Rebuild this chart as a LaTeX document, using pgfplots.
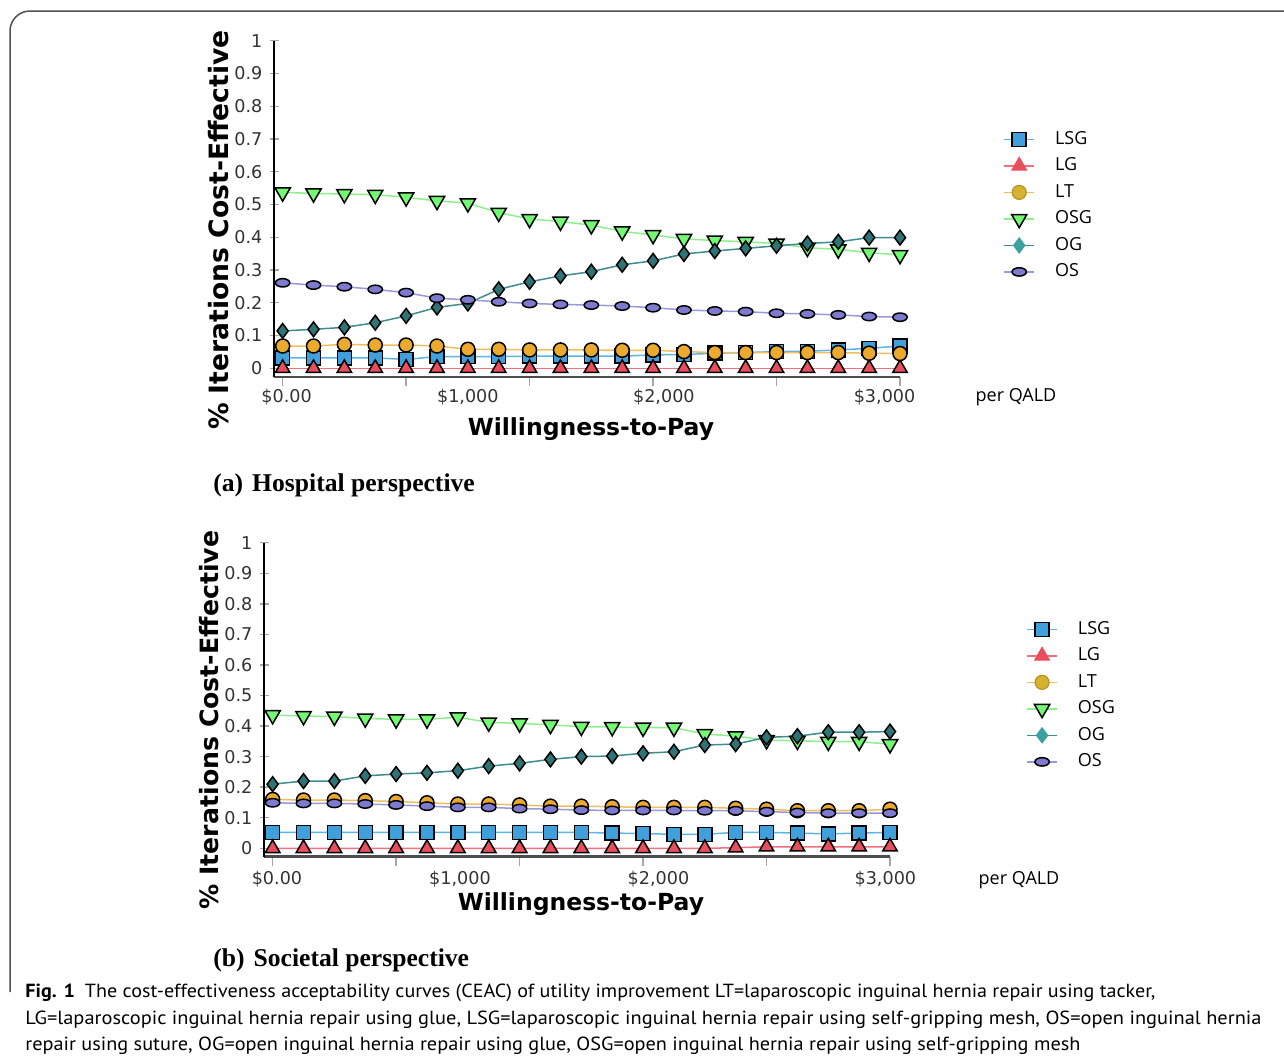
\documentclass[border=0pt]{standalone}
\usepackage{fontspec}
\usepackage{pgfplots}
\usepackage{pgfplotstable}
\pgfplotsset{compat=1.18}
\newfontfamily\dv{DejaVu Sans}
\newfontfamily\osans{Open Sans}
\newfontfamily\ptsans{PT Sans}
\newfontfamily\tms{Liberation Serif}

\definecolor{lsgfill}{HTML}{3FA0DC}\definecolor{lsgline}{HTML}{5AB4E8}
\definecolor{lgfill}{HTML}{E84E5C}\definecolor{lgline}{HTML}{F07080}
\definecolor{ltfill}{HTML}{EBAA2E}\definecolor{ltline}{HTML}{F0BE5A}
\definecolor{ltleg}{HTML}{D6B232}\definecolor{ltlegb}{HTML}{B8941E}
\definecolor{osgfill}{HTML}{72F872}\definecolor{osgline}{HTML}{8CF08C}
\definecolor{ogfill}{HTML}{2F7474}\definecolor{ogline}{HTML}{3E8C8C}\definecolor{ogleg}{HTML}{3AA0A0}
\definecolor{osfill}{HTML}{7D7ACF}\definecolor{osline}{HTML}{9A98DC}
\definecolor{frame}{HTML}{505050}

\pgfplotstableread{
x LSG LG LT OSG OG OS
0 0.032 0 0.068 0.537 0.114 0.261
1 0.032 0 0.068 0.534 0.119 0.254
2 0.032 0 0.073 0.532 0.125 0.249
3 0.032 0 0.071 0.530 0.139 0.241
4 0.027 0 0.071 0.522 0.160 0.231
5 0.036 0 0.068 0.511 0.186 0.214
6 0.036 0 0.058 0.504 0.198 0.209
7 0.036 0 0.058 0.475 0.241 0.203
8 0.037 0 0.056 0.456 0.264 0.198
9 0.037 0 0.056 0.448 0.282 0.195
10 0.037 0 0.056 0.437 0.295 0.193
11 0.037 0 0.055 0.418 0.316 0.190
12 0.041 0 0.055 0.407 0.328 0.185
13 0.042 0 0.051 0.395 0.349 0.178
14 0.046 0 0.048 0.390 0.358 0.175
15 0.048 0 0.048 0.386 0.366 0.173
16 0.051 0 0.048 0.381 0.374 0.168
17 0.052 0 0.048 0.368 0.381 0.166
18 0.056 0 0.048 0.363 0.386 0.163
19 0.061 0 0.046 0.353 0.399 0.158
20 0.068 0 0.045 0.346 0.399 0.156
}\hosp

\pgfplotstableread{
x LSG LG LT OSG OG OS
0 0.052 0 0.160 0.436 0.210 0.149
1 0.052 0 0.158 0.433 0.220 0.147
2 0.052 0 0.158 0.431 0.220 0.147
3 0.052 0 0.156 0.425 0.237 0.145
4 0.052 0 0.153 0.422 0.243 0.142
5 0.052 0 0.149 0.422 0.247 0.138
6 0.052 0 0.145 0.429 0.254 0.134
7 0.052 0 0.145 0.412 0.269 0.134
8 0.052 0 0.142 0.409 0.278 0.130
9 0.052 0 0.138 0.404 0.291 0.128
10 0.052 0 0.138 0.398 0.300 0.125
11 0.050 0 0.136 0.397 0.302 0.124
12 0.048 0 0.134 0.395 0.311 0.124
13 0.046 0 0.134 0.395 0.316 0.124
14 0.046 0 0.134 0.374 0.338 0.123
15 0.052 0.002 0.131 0.367 0.341 0.123
16 0.052 0.005 0.128 0.354 0.363 0.120
17 0.050 0.005 0.123 0.352 0.367 0.117
18 0.047 0.005 0.123 0.349 0.380 0.115
19 0.050 0.005 0.123 0.349 0.380 0.115
20 0.052 0.005 0.128 0.341 0.382 0.115
}\soc

\pgfplotsset{
  lsg/.style={color=lsgline, line width=0.75pt, mark=square*, mark size=3.5pt, mark options={fill=lsgfill, draw=black, line width=0.75pt}},
  lg/.style={color=lgline, line width=0.75pt, mark=triangle*, mark size=4.2pt, mark options={fill=lgfill, draw=black, line width=0.75pt}},
  lt/.style={color=ltline, line width=0.75pt, mark=*, mark size=3.5pt, mark options={fill=ltfill, draw=black, line width=0.75pt}},
  osg/.style={color=osgline, line width=0.75pt, mark=triangle*, mark size=4.4pt, mark options={fill=osgfill, draw=black, line width=0.75pt, rotate=180}},
  og/.style={color=ogline, line width=0.75pt, mark=diamond*, mark size=3.7pt, mark options={fill=ogfill, draw=black, line width=0.75pt}},
  os/.style={color=osline, line width=0.75pt, mark=*, mark size=3.6pt, mark options={fill=osfill, draw=black, line width=0.75pt, yscale=0.58}},
  ceac/.style={
    scale only axis, width=313pt,
    xmin=-0.28, xmax=20, ymax=1,
    clip=false,
    axis x line*=bottom, axis y line*=left,
    x axis line style={draw=black!70, line width=1.3pt},
    y axis line style={draw=black, line width=0.7pt},
    xtick={0,4,8,12,16,20}, xticklabels={},
    extra x tick labels={{\$0.00},{\$1,000},{\$2,000},{\$3,000}},
    extra x tick style={tick style={draw=none}},
    ytick={0,0.1,0.2,0.3,0.4,0.5,0.6,0.7,0.8,0.9,1},
    yticklabels={0,0.1,0.2,0.3,0.4,0.5,0.6,0.7,0.8,0.9,1},
    major tick length=4.5pt,
    xtick align=outside, ytick align=center,
    tick style={draw=black!35, line width=0.7pt},
    tick label style={font=\dv\fontsize{8.8}{10}\selectfont, text=black!80},
    /pgf/number format/assume math mode=true,
    xlabel={Willingness-to-Pay},
    ylabel={\% Iterations Cost-Effective},
    legend cell align=left,
    legend image code/.code={\draw[mark repeat=2,mark phase=2] plot coordinates {(0cm,0cm) (0.265cm,0cm) (0.53cm,0cm)};},
    legend style={draw=none, fill=none, font=\osans\fontsize{9}{10}\selectfont, inner sep=0pt, row sep=4.25pt, column sep=10pt, nodes={inner sep=0pt, text height=7pt, text depth=2pt}},
  }
}

\newcommand\legendimages{%
  \addlegendimage{color=lsgline, line width=0.75pt, mark=square*, mark size=3.5pt, mark options={fill=lsgfill, draw=black, line width=0.75pt}}
  \addlegendentry{LSG}
  \addlegendimage{color=lgline, line width=0.75pt, mark=triangle*, mark size=4.2pt, mark options={fill=lgfill, draw=lgfill, line width=0.6pt}}
  \addlegendentry{LG}
  \addlegendimage{color=ltline, line width=0.75pt, mark=*, mark size=3.5pt, mark options={fill=ltleg, draw=ltlegb, line width=0.6pt}}
  \addlegendentry{LT}
  \addlegendimage{color=osgline, line width=0.75pt, mark=triangle*, mark size=4.4pt, mark options={fill=osgfill, draw=black, line width=0.75pt, rotate=180}}
  \addlegendentry{OSG}
  \addlegendimage{color=ogline, line width=0.75pt, mark=diamond*, mark size=3.7pt, mark options={fill=ogleg, draw=ogleg, line width=0.6pt}}
  \addlegendentry{OG}
  \addlegendimage{color=osline, line width=0.75pt, mark=*, mark size=3.6pt, mark options={fill=osfill, draw=black, line width=0.75pt, yscale=0.58}}
  \addlegendentry{OS}
}

\begin{document}
\begin{tikzpicture}
\path[use as bounding box] (0,0) rectangle (642pt,-530.5pt);
\begin{scope}[x=0.5pt,y=-0.5pt]
  \draw[frame, line width=0.75pt, rounded corners=10pt] (10,992) -- (10,11) -- (1300,11);
  \node[anchor=base west, inner sep=0pt] at (213,491) {\tms\bfseries\fontsize{12.8}{14}\selectfont (a)\hspace{4.5pt}Hospital perspective};
  \node[anchor=base west, inner sep=0pt] at (213,966) {\tms\bfseries\fontsize{12.8}{14}\selectfont (b)\hspace{4.5pt}Societal perspective};
  \node[anchor=base, inner sep=0pt] at (1016,401.5) {\osans\fontsize{9}{10}\selectfont per QALD};
  \node[anchor=base, inner sep=0pt] at (1019,884.5) {\osans\fontsize{9}{10}\selectfont per QALD};
  \node[anchor=base west, inner sep=0pt] at (25,997) {\resizebox{565pt}{\height}{\ptsans\fontsize{9.5}{11}\selectfont\textbf{Fig. 1}\enspace The cost-effectiveness acceptability curves (CEAC) of utility improvement LT{=}laparoscopic inguinal hernia repair using tacker,}};
  \node[anchor=base west, inner sep=0pt] at (25,1024) {\resizebox{618pt}{\height}{\ptsans\fontsize{9.5}{11}\selectfont LG{=}laparoscopic inguinal hernia repair using glue, LSG{=}laparoscopic inguinal hernia repair using self-gripping mesh, OS{=}open inguinal hernia}};
  \node[anchor=base west, inner sep=0pt] at (25,1050) {\resizebox{527.5pt}{\height}{\ptsans\fontsize{9.5}{11}\selectfont repair using suture, OG{=}open inguinal hernia repair using glue, OSG{=}open inguinal hernia repair using self-gripping mesh}};
\end{scope}

\begin{axis}[ceac, at={(137pt,-188.5pt)}, anchor=south west, height=168.15pt, ymin=-0.0266,
  extra x ticks={0.13,6,12.35,19.5},
  xticklabel style={yshift=2pt},
  xlabel style={at={(axis description cs:0.5064,-0.174)}, anchor=base, font=\dv\bfseries\fontsize{11.75}{13}\selectfont},
  ylabel style={at={(axis description cs:-0.0879,0.437)}, anchor=center, font=\dv\bfseries\fontsize{13.3}{15}\selectfont},
  legend style={at={(axis description cs:1.1645,0.7345)}, anchor=north west}]
\addplot[lsg, forget plot] table[x=x, y=LSG] {\hosp};
\addplot[lg, forget plot] table[x=x, y=LG] {\hosp};
\addplot[lt, forget plot] table[x=x, y=LT] {\hosp};
\addplot[osg, forget plot] table[x=x, y=OSG] {\hosp};
\addplot[og, forget plot] table[x=x, y=OG] {\hosp};
\addplot[os, forget plot] table[x=x, y=OS] {\hosp};
\legendimages
\end{axis}

\begin{axis}[ceac, at={(132pt,-428.35pt)}, anchor=south west, height=157pt, ymin=-0.0275,
  extra x ticks={0.14,6.07,12.5,19.85},
  xticklabel style={yshift=1pt},
  xlabel style={at={(axis description cs:0.5064,-0.171)}, anchor=base, font=\dv\bfseries\fontsize{11.75}{13}\selectfont},
  ylabel style={at={(axis description cs:-0.087,0.435)}, anchor=center, font=\dv\bfseries\fontsize{12.6}{14}\selectfont},
  legend style={at={(axis description cs:1.217,0.754)}, anchor=north west}]
\addplot[lsg, forget plot] table[x=x, y=LSG] {\soc};
\addplot[lg, forget plot] table[x=x, y=LG] {\soc};
\addplot[lt, forget plot] table[x=x, y=LT] {\soc};
\addplot[osg, forget plot] table[x=x, y=OSG] {\soc};
\addplot[og, forget plot] table[x=x, y=OG] {\soc};
\addplot[os, forget plot] table[x=x, y=OS] {\soc};
\legendimages
\end{axis}
\end{tikzpicture}
\end{document}
